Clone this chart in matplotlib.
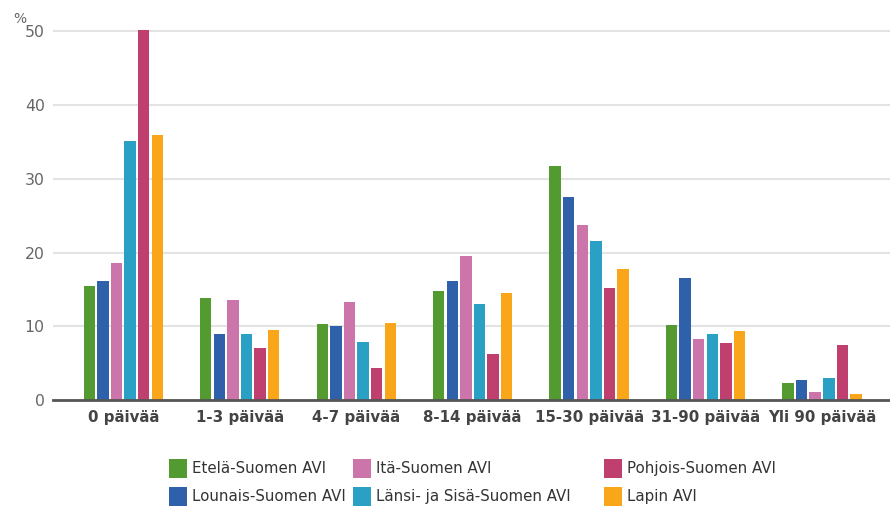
import matplotlib
matplotlib.use("Agg")
import matplotlib.pyplot as plt
from matplotlib.patches import Patch
import numpy as np

plt.rcParams['font.family'] = ['DejaVu Sans']

categories = ["0 päivää", "1-3 päivää", "4-7 päivää", "8-14 päivää",
              "15-30 päivää", "31-90 päivää", "Yli 90 päivää"]
series_names = ["Etelä-Suomen AVI", "Lounais-Suomen AVI", "Itä-Suomen AVI",
                "Länsi- ja Sisä-Suomen AVI", "Pohjois-Suomen AVI", "Lapin AVI"]
etela = [15.4, 13.8, 10.3, 14.8, 31.8, 10.2, 2.3]
lounais = [16.2, 8.9, 10.0, 16.2, 27.5, 16.6, 2.7]
ita = [18.6, 13.5, 13.3, 19.5, 23.8, 8.3, 1.1]
lansi = [35.2, 8.9, 7.9, 13.0, 21.6, 8.9, 3.0]
pohjois = [50.2, 7.0, 4.4, 6.3, 15.2, 7.8, 7.5]
lappi = [36.0, 9.5, 10.5, 14.5, 17.8, 9.4, 0.8]
yticks = [0, 10, 20, 30, 40, 50]

colors = ["#539a31", "#2f61ab", "#cc75aa", "#2aa1c4", "#bf3f6f", "#f9a61b"]
all_series = [etela, lounais, ita, lansi, pohjois, lappi]

fig = plt.figure(figsize=(8.9, 5.07), dpi=100)
ax = fig.add_axes([53/890, 1 - 400/507, (890 - 53)/890, 0.756])

x = np.arange(len(categories))
step = 0.1168
width = 0.098
for i, (vals, c, name) in enumerate(zip(all_series, colors, series_names)):
    ax.bar(x + (i - 2.5) * step, vals, width=width, color=c, linewidth=0,
           label=name, zorder=3)

ax.set_xlim(-0.604, 6.584)
ax.set_ylim(0, 52)
ax.set_yticks(yticks)
ax.set_yticklabels([str(t) for t in yticks], color="#666666", fontsize=11.3)
ax.set_xticks(x)
ax.set_xticklabels(categories, fontsize=10.8, fontweight="bold", color="#444444")
ax.tick_params(axis="both", length=0)
ax.tick_params(axis="x", pad=7.5)
ax.tick_params(axis="y", pad=6)
ax.grid(axis="y", color="#e3e3e3", linewidth=1.5, zorder=0)
for s in ["top", "right", "left"]:
    ax.spines[s].set_visible(False)
ax.spines["bottom"].set_color("#555555")
ax.spines["bottom"].set_linewidth(2)
ax.spines["bottom"].set_zorder(4)

fig.text(13/890, 1 - 19/507, "%", fontsize=10, color="#666666", va="center", ha="left")

handles = [Patch(facecolor=c, edgecolor="none") for c in colors]
cols = [(0, 1, 169), (2, 3, 353), (4, 5, 604)]
for a, b, px in cols:
    fig.legend([handles[a], handles[b]], [series_names[a], series_names[b]],
               loc="upper left", bbox_to_anchor=(px/890, 1 - 459/507),
               frameon=False, fontsize=10.8, handlelength=1.2, handleheight=1.55,
               handletextpad=0.35, labelspacing=0.62, borderpad=0,
               borderaxespad=0, labelcolor="#333333")

fig.savefig("out.png", dpi=100, facecolor="white")
